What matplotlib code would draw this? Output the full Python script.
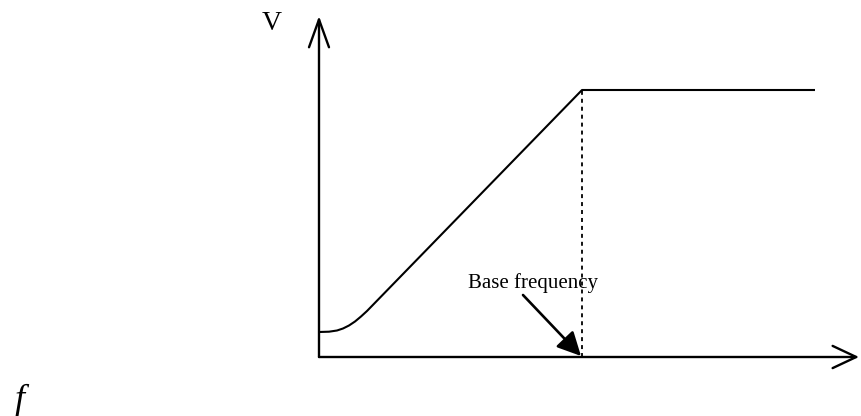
import matplotlib.pyplot as plt

# V/f schematic, coordinates in "pixel-like" units with origin at the axes corner
# knee + linear rise, then flat beyond base frequency
curve_x = [0, 10, 18, 24, 30, 36, 42, 48, 263, 496]
curve_y = [25, 25.3, 26.5, 28.5, 31.5, 35.5, 40.5, 46, 267, 267]

base_f = 263          # base frequency position
v_max = 267           # rated voltage level
x_axis_end = 540
y_axis_end = 341

fig = plt.figure(figsize=(8.61, 4.16), dpi=100)
ax = fig.add_axes([0, 0, 1, 1])
ax.set_xlim(-319, 542)
ax.set_ylim(-59, 357)
ax.axis('off')

lw = 1.7
# axes with open arrowheads
ax.annotate('', xy=(0, y_axis_end), xytext=(0, 0),
            arrowprops=dict(arrowstyle='->,head_length=1.0,head_width=0.36',
                            lw=lw, color='black', shrinkA=0, shrinkB=0,
                            mutation_scale=20))
ax.annotate('', xy=(x_axis_end, 0), xytext=(0, 0),
            arrowprops=dict(arrowstyle='->,head_length=0.85,head_width=0.4',
                            lw=lw, color='black', shrinkA=0, shrinkB=0,
                            mutation_scale=20))

ax.plot(curve_x, curve_y, color='black', lw=1.5, solid_capstyle='butt')
ax.plot([base_f, base_f], [0, v_max], color='black', lw=1.3,
        linestyle=(0, (2.2, 2.2)))

ax.annotate('', xy=(base_f - 1, 1), xytext=(204, 62),
            arrowprops=dict(arrowstyle='-|>,head_length=0.8,head_width=0.4',
                            lw=1.9, color='black', shrinkA=0, shrinkB=0,
                            mutation_scale=18))

ax.text(214, 74, 'Base frequency', family='Liberation Serif', fontsize=15,
        ha='center', va='center')
ax.text(-47, 334, 'V', family='Liberation Serif', fontsize=20,
        ha='center', va='center')
ax.text(-299, -43, 'f', family='Liberation Serif', style='italic',
        fontsize=26, ha='center', va='center')

fig.savefig('out.png', dpi=100)
